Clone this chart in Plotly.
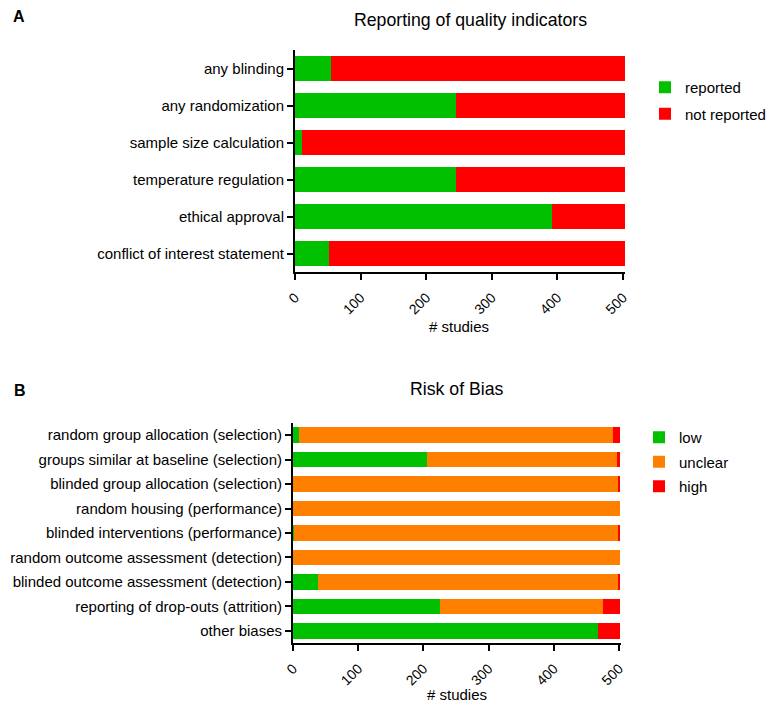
import plotly.graph_objects as go

# panel A: reporting of quality indicators
indicators = ['any blinding', 'any randomization', 'sample size calculation',
              'temperature regulation', 'ethical approval', 'conflict of interest statement']
reported = [55, 245, 10, 246, 392, 52]
not_reported = [448, 258, 493, 257, 111, 451]

# panel B: risk of bias
bias_items = ['random group allocation (selection)', 'groups similar at baseline (selection)',
              'blinded group allocation (selection)', 'random housing (performance)',
              'blinded interventions (performance)', 'random outcome assessment (detection)',
              'blinded outcome assessment (detection)', 'reporting of drop-outs (attrition)',
              'other biases']
low = [9, 206, 0, 0, 1, 0, 39, 225, 467]
unclear = [482, 291, 499, 501, 498, 501, 460, 250, 0]
high = [10, 4, 2, 0, 2, 0, 2, 26, 34]

xticks = [0, 100, 200, 300, 400, 500]

GREEN = '#00C000'
RED = '#FF0000'
ORANGE = '#FF8000'
FONT = 'Liberation Sans, Arial, sans-serif'

fig = go.Figure()

fig.add_trace(go.Bar(y=indicators, x=reported, orientation='h', name='reported',
                     marker=dict(color=GREEN, line_width=0), width=0.65,
                     xaxis='x', yaxis='y', legend='legend', legendgroup='a1'))
fig.add_trace(go.Bar(y=indicators, x=not_reported, orientation='h', name='not reported',
                     marker=dict(color=RED, line_width=0), width=0.65,
                     xaxis='x', yaxis='y', legend='legend', legendgroup='a2'))

for vals, name, col in [(low, 'low', GREEN), (unclear, 'unclear', ORANGE), (high, 'high', RED)]:
    fig.add_trace(go.Bar(y=bias_items, x=vals, orientation='h', name=name,
                         marker=dict(color=col, line_width=0), width=0.64,
                         xaxis='x2', yaxis='y2', legend='legend2', legendgroup='b' + name))

W, H = 774, 711

axis_style = dict(showline=True, linecolor='black', linewidth=2, ticks='outside',
                  ticklen=6, tickwidth=2, tickcolor='black', showgrid=False,
                  zeroline=False, automargin=False)
ytick_font = dict(size=15, color='black', family=FONT)
xtick_font = dict(size=14, color='black', family=FONT)


def label(text, x, y, size):
    return dict(text=text, x=x / W, y=1 - y / H, xref='paper', yref='paper',
                showarrow=False, xanchor='center', yanchor='middle', font=dict(size=size))


fig.update_layout(
    width=W, height=H,
    margin=dict(l=0, r=0, t=0, b=0),
    plot_bgcolor='white', paper_bgcolor='white',
    barmode='stack',
    font=dict(family=FONT, color='black', size=15),
    xaxis=dict(domain=[295 / W, 625 / W], range=[0, 503], tickvals=xticks,
               tickangle=-45, ticklabelstandoff=4, anchor='y', tickfont=xtick_font,
               **axis_style),
    yaxis=dict(domain=[1 - 272 / H, 1 - 50 / H], autorange='reversed',
               anchor='x', tickfont=ytick_font, **axis_style),
    xaxis2=dict(domain=[293 / W, 621 / W], range=[0, 503], tickvals=xticks,
                tickangle=-45, ticklabelstandoff=4, anchor='y2', tickfont=xtick_font,
                **axis_style),
    yaxis2=dict(domain=[1 - 643 / H, 1 - 423 / H], autorange='reversed',
                anchor='x2', tickfont=ytick_font, **axis_style),
    legend=dict(x=645 / W, y=1 - 71 / H, xanchor='left', yanchor='top',
                font=dict(size=15), tracegroupgap=4, bgcolor='rgba(0,0,0,0)'),
    legend2=dict(x=639 / W, y=1 - 421 / H, xanchor='left', yanchor='top',
                 font=dict(size=15), tracegroupgap=2, bgcolor='rgba(0,0,0,0)'),
    annotations=[
        label('<b>A</b>', 19, 16, 16),
        label('<b>B</b>', 20, 390, 16),
        label('Reporting of quality indicators', 470, 20, 17.7),
        label('Risk of Bias', 457, 389, 17.7),
        label('# studies', 459, 326, 15),
        label('# studies', 457, 694, 15),
    ],
)

# drop the default page margin so the figure sits at the window's corner
fig.write_html('out.html', config={'displayModeBar': False},
               post_script="document.body.style.margin='0';")
